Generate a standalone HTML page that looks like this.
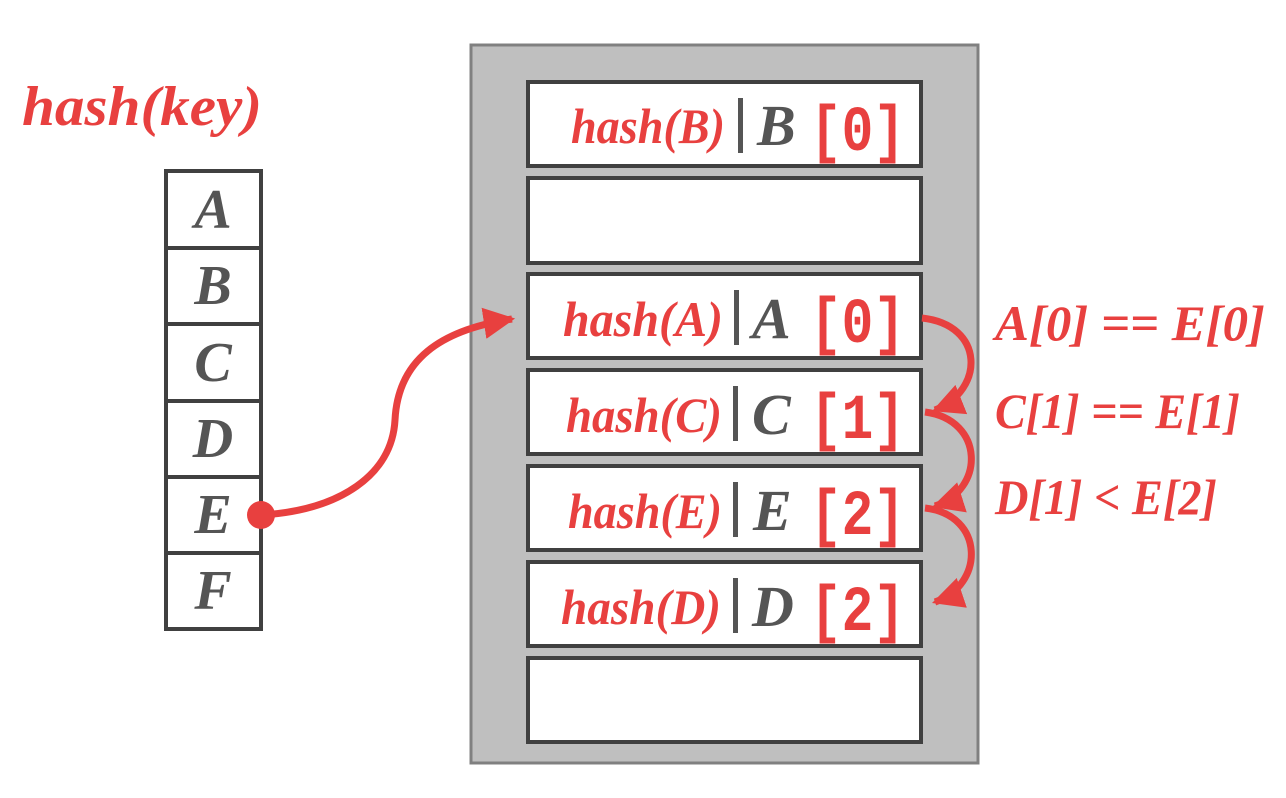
<!DOCTYPE html>
<html><head><meta charset="utf-8"><style>
html,body{margin:0;padding:0;background:#fff;}
svg{display:block;}
.h{font-family:"Liberation Serif",serif;font-style:italic;font-weight:bold;fill:#e8403f;}
.g{font-family:"Liberation Serif",serif;font-style:italic;font-weight:bold;fill:#555;}
.m{font-family:"Liberation Mono",monospace;font-weight:bold;fill:#e8403f;}
</style></head><body>
<svg width="1286" height="798" viewBox="0 0 1286 798" xmlns="http://www.w3.org/2000/svg">
<defs>
<marker id="ar" viewBox="0 0 10 10" refX="9" refY="5" markerWidth="4.5" markerHeight="4.5" orient="auto" markerUnits="strokeWidth">
<path d="M0,0 L10,5 L0,10 z" fill="#e8403f"/></marker>
</defs>
<text x="22" y="125" class="h" font-size="56" textLength="240" lengthAdjust="spacingAndGlyphs">hash(key)</text>
<g fill="#fff" stroke="#404040" stroke-width="4">
<rect x="166" y="171" width="95" height="77"/>
<rect x="166" y="248" width="95" height="76"/>
<rect x="166" y="324" width="95" height="77"/>
<rect x="166" y="401" width="95" height="76"/>
<rect x="166" y="477" width="95" height="76"/>
<rect x="166" y="553" width="95" height="76"/>
</g>
<g class="g" font-size="56" text-anchor="middle">
<text x="213" y="228">A</text><text x="213" y="304">B</text><text x="213" y="381">C</text>
<text x="213" y="457">D</text><text x="213" y="533">E</text><text x="213" y="609">F</text>
</g>
<rect x="471" y="45" width="507" height="718" fill="#bfbfbf" stroke="#808080" stroke-width="3"/>
<g fill="#fff" stroke="#404040" stroke-width="4">
<rect x="528" y="82" width="393" height="84"/>
<rect x="528" y="178" width="393" height="85"/>
<rect x="528" y="274" width="393" height="84"/>
<rect x="528" y="370" width="393" height="84"/>
<rect x="528" y="466" width="393" height="84"/>
<rect x="528" y="562" width="393" height="84"/>
<rect x="528" y="658" width="393" height="84"/>
</g>
<g>
<text x="571" y="143" class="h" font-size="50" textLength="154" lengthAdjust="spacingAndGlyphs">hash(B)</text><text x="757" y="145" class="g" font-size="58">B</text><text x="810" y="150" class="m" font-size="64" textLength="95" lengthAdjust="spacingAndGlyphs">[0]</text>
<text x="563" y="336" class="h" font-size="50" textLength="160" lengthAdjust="spacingAndGlyphs">hash(A)</text><text x="752" y="338" class="g" font-size="58">A</text><text x="810" y="342" class="m" font-size="64" textLength="95" lengthAdjust="spacingAndGlyphs">[0]</text>
<text x="566" y="432" class="h" font-size="50" textLength="156" lengthAdjust="spacingAndGlyphs">hash(C)</text><text x="752" y="434" class="g" font-size="58">C</text><text x="810" y="438" class="m" font-size="64" textLength="95" lengthAdjust="spacingAndGlyphs">[1]</text>
<text x="568" y="528" class="h" font-size="50" textLength="154" lengthAdjust="spacingAndGlyphs">hash(E)</text><text x="753" y="530" class="g" font-size="58">E</text><text x="810" y="534" class="m" font-size="64" textLength="95" lengthAdjust="spacingAndGlyphs">[2]</text>
<text x="561" y="624" class="h" font-size="50" textLength="160" lengthAdjust="spacingAndGlyphs">hash(D)</text><text x="752" y="626" class="g" font-size="58">D</text><text x="810" y="630" class="m" font-size="64" textLength="95" lengthAdjust="spacingAndGlyphs">[2]</text>
</g>
<g fill="#555">
<rect x="738" y="98" width="5" height="55"/>
<rect x="734" y="290" width="5" height="55"/>
<rect x="733" y="386" width="5" height="55"/>
<rect x="733" y="482" width="5" height="55"/>
<rect x="733" y="578" width="5" height="55"/>
</g>
<g fill="none" stroke="#e8403f" stroke-width="7">
<path d="M262,515 C340,510 392,475 395,420 C398,360 440,330 512,319" marker-end="url(#ar)"/>
<path d="M922,318 C985,325 985,390 935,410" marker-end="url(#ar)"/>
<path d="M925,412 C985,420 985,490 935,506" marker-end="url(#ar)"/>
<path d="M925,508 C985,515 985,585 935,602" marker-end="url(#ar)"/>
</g>
<circle cx="261" cy="515" r="14" fill="#e8403f"/>
<g class="h" font-size="50">
<text x="995" y="340" textLength="270" lengthAdjust="spacingAndGlyphs">A[0] == E[0]</text>
<text x="995" y="428" textLength="245" lengthAdjust="spacingAndGlyphs">C[1] == E[1]</text>
<text x="995" y="514" textLength="222" lengthAdjust="spacingAndGlyphs">D[1] &lt; E[2]</text>
</g>
</svg>
</body></html>
